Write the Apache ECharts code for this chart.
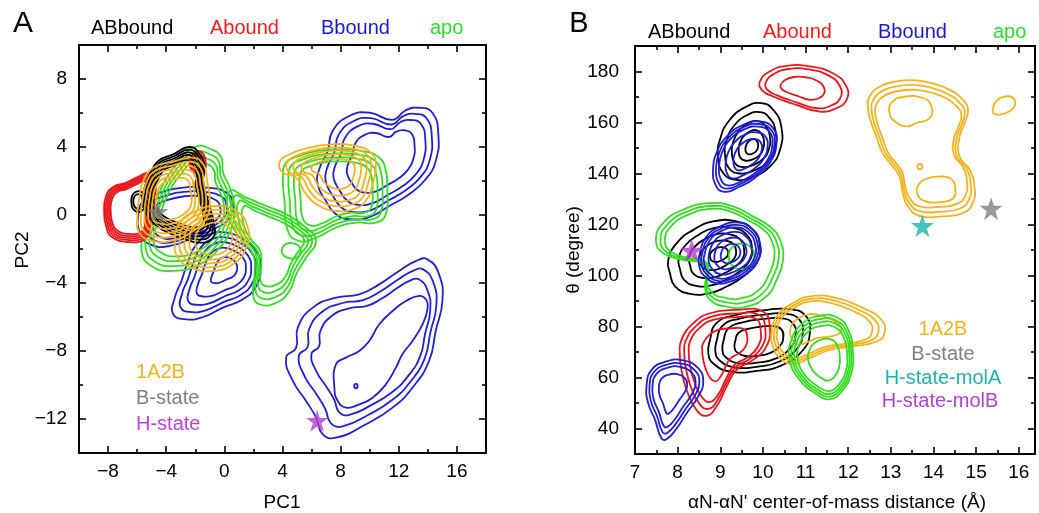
<!DOCTYPE html>
<html><head><meta charset="utf-8">
<script src="https://cdn.jsdelivr.net/npm/echarts@6/dist/echarts.min.js"></script>
<style>html,body{margin:0;padding:0;background:#fff}#c{width:1039px;height:513px}</style>
</head><body><div id="c"></div>
<script>
// ---------- colours ----------
const COL = {AB:'#000000', A:'#e8161c', B:'#1f1fd6', apo:'#33dd22', o:'#f4b31e', gray:'#808080', mag:'#b23fd0', cyan:'#1db3b0'};
const FONT = '"Liberation Sans", Arial, sans-serif';

// ---------- panel A tick values ----------
const aXMajor = [-8,-4,0,4,8,12,16];
const aXMinor = [-6,-2,2,6,10,14];
const aYMajor = [-12,-8,-4,0,4,8];
const aYMinor = [-10,-6,-2,2,6];
// ---------- panel B tick values ----------
const bXMajor = [7,8,9,10,11,12,13,14,15,16];
const bXMinor = [7.5,8.5,9.5,10.5,11.5,12.5,13.5,14.5,15.5];
const bYMajor = [40,60,80,100,120,140,160,180];
const bYMinor = [50,70,90,110,130,150,170];

// ---------- panel A contour blobs (outline, c = centre, s = level scales) ----------
const aBlueMid = {c:[-2.5,-0.2], s:[1,0.86,0.72], pts:[[-5.92,0.04],[-5.58,0.82],[-4.43,1.31],[-2.83,1.61],[-1.23,1.61],[0.14,1.31],[0.59,0.63],[0.37,-0.16],[-0.55,-0.75],[-2.15,-1.33],[-3.75,-1.82],[-5.12,-1.73],[-5.81,-1.04]]};
const aBlueLow = {c:[0.2,-3.1], s:[1,0.86,0.72,0.56,0.3], pts:[[-3.52,-5.84],[-2.61,-6.14],[-1.46,-6.0],[-0.09,-5.45],[1.28,-4.96],[2.19,-4.18],[2.49,-3.10],[2.19,-2.12],[1.28,-1.43],[0.14,-1.04],[-1.0,-1.14],[-1.92,-1.73],[-2.49,-2.71],[-2.95,-3.88],[-3.41,-4.86]]};
const aBlueHeart = {c:[11.0,3.3], s:[1,0.88,0.76,0.56], pts:[[7.45,4.94],[8.59,5.82],[9.97,6.02],[11.57,5.6],[12.48,6.16],[13.39,6.31],[14.31,6.02],[14.72,4.75],[14.54,3.18],[13.85,2.1],[12.71,1.22],[11.34,0.53],[9.97,-0.12],[8.59,-0.25],[7.68,0.04],[6.99,0.82],[6.42,1.8],[6.53,2.69],[7.10,3.76]]};
const aBlueLower = {c:[11.5,-7.5], s:[1,0.88,0.76], pts:[[13.97,-2.61],[14.77,-3.49],[15.0,-5.06],[14.54,-6.82],[14.08,-8.59],[12.94,-10.16],[11.57,-11.33],[9.74,-12.31],[7.68,-13.1],[6.77,-12.9],[6.31,-11.92],[5.62,-10.94],[4.71,-9.76],[4.25,-8.39],[4.94,-7.8],[5.05,-6.63],[6.08,-5.45],[7.68,-4.86],[9.28,-4.67],[10.65,-4.08],[12.02,-3.29],[13.17,-2.71]]};
const aBlueLowerCore = {c:[0,0], s:[1], pts:[[7.68,-8.78],[8.37,-8.39],[9.28,-8.0],[9.97,-7.41],[10.66,-6.43],[11.57,-5.65],[12.49,-5.06],[13.4,-4.76],[13.86,-4.96],[13.97,-5.55],[13.63,-6.43],[12.94,-7.41],[12.25,-8.19],[11.8,-8.98],[11.11,-9.96],[10.2,-10.75],[9.28,-11.14],[8.37,-11.33],[7.8,-10.94],[7.57,-10.16]]};
const aBlueDot = {c:[0,0], s:[1], pts:[[8.93,-10.06],[9.05,-9.93],[9.17,-10.06],[9.05,-10.19]]};
const aApoCluster = {c:[-2.3,0.3], s:[1,0.92,0.84,0.76], pts:[[-2.03,4.0],[-0.89,3.86],[-0.21,3.37],[-0.09,2.49],[0.37,1.61],[0.71,0.43],[0.48,-0.75],[-0.32,-1.92],[-1.69,-2.9],[-3.52,-3.29],[-5.01,-3.0],[-5.69,-2.12],[-5.35,-0.75],[-4.43,1.41],[-3.29,2.98]]};
const aApoChannel = {c:[3.6,-1.6], s:[1,0.9,0.8,0.7], pts:[[0.37,1.41],[1.51,1.02],[2.88,0.53],[4.25,0.04],[5.62,-0.75],[6.31,-1.53],[5.62,-2.51],[4.94,-3.49],[4.48,-4.47],[3.57,-5.16],[2.42,-5.25],[1.97,-4.67],[2.08,-3.49],[1.97,-2.31],[1.05,-1.33],[0.37,-0.16]]};
const aApoRight = {c:[7.8,1.5], s:[1,0.9,0.8,0.7], pts:[[4.14,0.82],[4.03,2.2],[4.25,3.08],[5.17,3.47],[6.31,3.76],[7.91,3.86],[9.51,3.76],[10.65,3.37],[11.11,2.59],[11.22,1.41],[11.11,0.04],[10.42,-0.45],[9.05,-0.45],[7.68,-0.75],[6.31,-1.33],[5.17,-1.53],[4.37,-0.94]]};
const aApoSmall = {c:[0,0], s:[1], pts:[[3.95,-2.1],[4.15,-1.75],[4.6,-1.65],[5.1,-1.8],[5.25,-2.15],[5.0,-2.5],[4.55,-2.55],[4.1,-2.4]]};
const aRedLeft = {c:[-6.4,0.4], s:[1,0.94,0.88,0.82,0.76], pts:[[-8.27,0.24],[-8.14,1.12],[-7.66,1.65],[-6.83,1.88],[-5.94,2.24],[-5.12,2.47],[-4.71,1.7],[-4.98,0.53],[-5.12,-0.65],[-5.46,-1.41],[-6.63,-1.59],[-7.73,-1.29],[-8.14,-0.65]]};
const aRedTop = {c:[-1.85,3.05], s:[1,0.8,0.6], pts:[[-2.4,3.0],[-2.1,3.6],[-1.6,3.7],[-1.3,3.2],[-1.4,2.6],[-1.9,2.4]]};
const aBlackCluster = {c:[-3.2,1.4], s:[1,0.94,0.88,0.82,0.76,0.7], pts:[[-5.5,1.6],[-5.1,2.45],[-4.55,3.18],[-3.52,3.57],[-2.38,4.0],[-1.69,3.57],[-1.35,2.78],[-1.46,2.0],[-1.12,0.82],[-0.73,-0.45],[-0.78,-1.33],[-1.69,-1.63],[-3.06,-1.3],[-4.2,-0.9],[-5.0,-0.35],[-5.6,0.6]]};
const aBlackSmall = {c:[-5.95,0.8], s:[1,0.7], pts:[[-6.4,0.8],[-6.2,1.3],[-5.7,1.35],[-5.45,0.9],[-5.6,0.3],[-6.15,0.25]]};
const aOrangeCluster = {c:[-3.5,1.0], s:[1,0.9,0.8,0.7,0.6,0.5], pts:[[-5.58,2.0],[-4.89,2.78],[-3.52,3.14],[-2.15,3.37],[-1.42,2.94],[-1.19,2.0],[-1.0,0.82],[-1.23,-0.16],[-2.15,-0.94],[-3.52,-1.49],[-4.89,-1.53],[-5.81,-1.1],[-5.99,-0.16],[-5.85,1.02]]};
const aOrangeLow = {c:[-0.6,-1.4], s:[1,0.88,0.76,0.64,0.5], pts:[[-3.41,-1.53],[-3.06,-0.45],[-1.92,0.24],[-0.55,0.53],[0.82,0.24],[1.62,-0.75],[1.51,-1.92],[0.59,-2.9],[-0.78,-3.29],[-2.15,-3.14],[-3.18,-2.51]]};
const aOrangeRight = {c:[7.8,2.6], s:[1,0.88,0.76,0.62,0.45], pts:[[3.79,3.08],[4.48,3.57],[5.85,3.96],[7.45,4.16],[9.05,4.06],[10.08,3.67],[10.42,2.98],[10.19,1.8],[9.74,0.82],[8.82,0.33],[7.68,0.24],[6.54,0.53],[5.63,1.22],[4.94,2.2],[4.03,2.49]]};

// ---------- panel B contour blobs ----------
const bRedTop = {c:[10.9,173.5], s:[1,0.86,0.5], pts:[[9.93,176.1],[10.16,180],[10.55,182.2],[11.1,182.0],[11.64,179.3],[11.96,174.1],[11.96,168.9],[11.72,165.6],[11.33,164.3],[10.79,166.9],[10.24,170.2],[9.97,172.8]]};
const bBlackUp = {c:[9.75,150], s:[1,0.8,0.6,0.4,0.2], pts:[[8.99,153.2],[9.22,161.0],[9.62,166.3],[9.97,167.6],[10.24,165.0],[10.43,158.4],[10.4,149.3],[10.16,142.7],[9.77,138.8],[9.38,137.5],[9.07,140.1],[8.95,146.7]]};
const bBlueUp = {c:[9.7,148], s:[1,0.92,0.84,0.66,0.45], pts:[[8.91,148],[9.15,154.5],[9.54,159.1],[9.93,160.4],[10.24,157.8],[10.32,151.9],[10.16,144.1],[9.85,138.8],[9.46,134.9],[9.07,132.9],[8.87,136.2],[8.83,141.4]]};
const bGreenMid = {c:[9.0,112], s:[1,0.93,0.86], pts:[[7.49,114.0],[7.66,120.5],[8.13,125.8],[8.76,128.4],[9.3,127.1],[9.77,123.1],[10.16,119.2],[10.4,114.0],[10.47,106.1],[10.32,98.3],[10.08,91.8],[9.62,87.8],[9.15,87.8],[8.76,90.5],[8.64,95.7],[8.68,100.9],[8.56,104.8],[8.13,106.1],[7.66,108.8]]};
const bGreenMidCore = {c:[0,0], s:[1], pts:[[9.2,107.5],[9.28,111],[9.5,112.5],[9.72,111],[9.8,107.5],[9.72,104],[9.5,102.5],[9.28,104]]};
const bBlackMid = {c:[9.0,108.5], s:[1,0.8,0.6,0.4,0.2], pts:[[7.82,100.9],[7.78,106.1],[7.98,112.7],[8.37,117.9],[8.83,121.2],[9.38,121.2],[9.77,117.9],[9.93,111.4],[9.85,104.8],[9.54,99.6],[9.15,95.7],[8.76,93.1],[8.29,92.8],[7.94,95.7]]};
const bBlueMid = {c:[9.25,108.5], s:[1,0.92,0.84,0.7,0.52,0.32], pts:[[8.52,108.8],[8.68,115.3],[8.99,119.2],[9.38,120.8],[9.73,118.6],[9.93,112.7],[9.89,106.1],[9.62,100.9],[9.22,97.6],[8.91,97.0],[8.64,99.6],[8.51,103.5]]};
const bRedLow = {c:[9.1,72], s:[1,0.9,0.8,0.5], pts:[[8.09,74.8],[8.37,81.3],[8.76,85.2],[9.38,86.5],[10.0,85.9],[10.16,80.0],[10.08,72.2],[9.77,66.9],[9.38,63.0],[9.15,56.5],[8.91,48.6],[8.68,45.0],[8.44,47.3],[8.21,55.2],[8.09,63.0],[8.05,69.5]]};
const bBlackLow = {c:[9.9,74], s:[1,0.86,0.72,0.48], pts:[[8.76,74.8],[8.91,81.3],[9.38,84.6],[10.0,86.3],[10.63,86.8],[11.02,83.9],[11.1,77.4],[10.94,70.8],[10.47,65.0],[9.85,62.6],[9.22,62.4],[8.83,65.6],[8.72,69.5]]};
const bOrangeLow = {c:[11.0,79], s:[1,0.92,0.84,0.45], pts:[[10.2,77.4],[10.32,83.9],[10.71,89.2],[11.18,92.0],[11.72,91.1],[12.35,87.2],[12.78,82.6],[12.85,77.4],[12.66,74.1],[12.11,72.2],[11.57,70.8],[11.1,67.6],[10.71,65.4],[10.4,67.6],[10.24,72.2]]};
const bGreenLow = {c:[11.5,66], s:[1,0.93,0.86,0.78,0.5], pts:[[10.63,66.9],[10.67,74.8],[10.94,81.3],[11.33,84.2],[11.72,83.7],[12.0,78.7],[12.11,69.5],[12.07,61.7],[11.88,55.2],[11.57,51.5],[11.22,53.9],[10.86,59.1]]};
const bBlueLow = {c:[7.85,56], s:[1,0.88,0.76,0.5], pts:[[7.27,56.5],[7.39,63.0],[7.74,66.3],[8.13,66.7],[8.48,63.7],[8.6,58.4],[8.48,52.5],[8.21,46.0],[7.98,40.1],[7.74,35.8],[7.62,36.2],[7.47,43.4],[7.31,49.9]]};
const bOrangeTop = {c:[13.7,150], s:[1,0.93,0.86], pts:[[12.5,170.2],[12.74,174.1],[13.13,176.1],[13.6,176.5],[13.99,175.2],[14.38,172.8],[14.69,168.9],[14.81,165.0],[14.73,159.8],[14.61,154.5],[14.61,146.7],[14.85,141.4],[14.96,134.9],[14.92,128.4],[14.69,124.5],[14.22,123.2],[13.67,123.4],[13.4,127.1],[13.28,132.3],[13.2,138.8],[13.05,142.7],[12.81,147.9],[12.66,154.5],[12.52,161.0],[12.46,166.3]]};
const bOrangeTopUpper = {c:[0,0], s:[1], pts:[[13.01,167.6],[13.28,170.0],[13.75,169.6],[13.95,166.3],[13.91,161.7],[13.6,159.8],[13.36,158.5],[13.09,160.5],[12.97,163.7]]};
const bOrangeTopLower = {c:[0,0], s:[1], pts:[[13.64,135.3],[13.83,137.9],[14.14,138.8],[14.41,137.9],[14.51,134.0],[14.45,130.1],[14.14,128.8],[13.79,129.2],[13.62,132.1]]};
const bOrangeDot = {c:[0,0], s:[1], pts:[[13.62,142.7],[13.68,143.8],[13.74,142.7],[13.68,141.6]]};
const bOrangeSide = {c:[0,0], s:[1], pts:[[15.39,165.0],[15.47,168.3],[15.7,170.2],[15.87,169.6],[15.91,167.0],[15.78,164.4],[15.55,163.1],[15.41,163.5]]};

// ---------- stars ----------
const starsA = [[-4.6,0.2],[6.38,-12.1]];
const starsAColor = [COL.gray, COL.mag];
const starsB = [[13.74,119.5],[15.35,126.2],[8.33,109.8]];
const starsBColor = [COL.cyan, COL.gray, COL.mag];

// ---------- draw order ----------
const layersA = [
  [COL.B, [aBlueMid, aBlueLow, aBlueHeart, aBlueLower, aBlueLowerCore, aBlueDot]],
  [COL.apo, [aApoCluster, aApoChannel, aApoRight, aApoSmall]],
  [COL.A, [aRedLeft, aRedTop]],
  [COL.AB, [aBlackCluster, aBlackSmall]],
  [COL.o, [aOrangeCluster, aOrangeLow, aOrangeRight]]
];
const layersB = [
  [COL.AB, [bBlackUp, bBlackMid, bBlackLow]],
  [COL.A, [bRedTop, bRedLow]],
  [COL.o, [bOrangeLow, bOrangeTop, bOrangeTopUpper, bOrangeTopLower, bOrangeDot, bOrangeSide]],
  [COL.apo, [bGreenMid, bGreenMidCore, bGreenLow]],
  [COL.B, [bBlueUp, bBlueMid, bBlueLow]]
];

function buildRings(layers){
  const out = [];
  layers.forEach(([color, blobs]) => blobs.forEach(b => b.s.forEach(k => {
    out.push({color, pts: b.pts.map(p => [b.c[0] + (p[0]-b.c[0])*k, b.c[1] + (p[1]-b.c[1])*k])});
  })));
  return out;
}
const ringsA = buildRings(layersA);
const ringsB = buildRings(layersB);

function contourSeries(rings, xi, yi){
  return {type:'custom', xAxisIndex:xi, yAxisIndex:yi, silent:true, animation:false, z:2,
    data: rings.map(r => r.pts[0]),
    renderItem: (params, api) => {
      const r = rings[params.dataIndex];
      return {type:'polygon', shape:{points: r.pts.map(p => api.coord(p)), smooth:0.5},
              style:{fill:'none', stroke:r.color, lineWidth:1.8}};
    }};
}

const STAR = 'path://M12,0 L14.9,8.6 L24,8.6 L16.6,14 L19.4,22.8 L12,17.5 L4.6,22.8 L7.4,14 L0,8.6 L9.1,8.6 Z';
function starSeries(pts, colors, xi, yi, size){
  return {type:'scatter', xAxisIndex:xi, yAxisIndex:yi, silent:true, animation:false, symbol:STAR, symbolSize:size, z:10,
    data: pts.map((p,i) => ({value:p, itemStyle:{color:colors[i]}}))};
}

const fmt = v => String(v).replace('-', '\u2212');
function axisSet(dim, grid, min, max, interval, majors, minors, margin){
  const pos = dim === 'x' ? ['bottom','top'] : ['left','right'];
  const out = [];
  pos.forEach((p, pi) => {
    const base = {type:'value', gridIndex:grid, min, max, interval, position:p,
      axisLine:{show:false, onZero:false}, splitLine:{show:false}, minorTick:{show:false}, minorSplitLine:{show:false}};
    out.push(Object.assign({}, base, {
      axisTick:{show:true, inside:true, length:7, customValues:majors, lineStyle:{color:'#000', width:1.6}},
      axisLabel: pi === 0 ? {show:true, customValues:majors, formatter:fmt, margin, color:'#000', fontSize:19, fontFamily:FONT}
                          : {show:false}}));
    out.push(Object.assign({}, base, {
      axisTick:{show:true, inside:true, length:4, customValues:minors, lineStyle:{color:'#000', width:1.6}},
      axisLabel:{show:false}}));
  });
  return out;
}

const xAxes = axisSet('x', 0, -10, 18, 2, aXMajor, aXMinor, 9).concat(axisSet('x', 1, 7, 16.38, 0.5, bXMajor, bXMinor, 9));
const yAxes = axisSet('y', 0, -14, 10, 2, aYMajor, aYMinor, 12).concat(axisSet('y', 1, 30, 190, 10, bYMajor, bYMinor, 16));

function txt(text, x, y, color, size, align, rot){
  return {type:'text', x, y, rotation: rot || 0, silent:true, z:100,
    style:{text, fill:color, font: size + 'px ' + FONT, textAlign:align || 'left', textVerticalAlign:'middle', align:align || 'left', verticalAlign:'middle'}};
}

const graphics = [
  txt('A', 23, 24, '#000', 30, 'center'),
  txt('B', 579, 24, '#000', 29, 'center'),
  txt('ABbound', 91, 28, '#000', 20), txt('Abound', 210, 28, '#ee1c1c', 20),
  txt('Bbound', 321, 28, '#1a1ad2', 20), txt('apo', 430, 28, '#2edc2e', 20),
  txt('ABbound', 648, 32, '#000', 20), txt('Abound', 763, 32, '#ee1c1c', 20),
  txt('Bbound', 878, 32, '#1a1ad2', 20), txt('apo', 993, 32, '#2edc2e', 20),
  txt('1A2B', 136, 372, COL.o, 20), txt('B-state', 136, 398, COL.gray, 20), txt('H-state', 136, 424, '#c040e0', 20),
  txt('1A2B', 943, 329, COL.o, 20, 'center'), txt('B-state', 943, 354, COL.gray, 20, 'center'),
  txt('H-state-molA', 943, 378, COL.cyan, 20, 'center'), txt('H-state-molB', 940, 401, COL.mag, 20, 'center'),
  txt('PC1', 282, 503, '#000', 19, 'center'),
  txt('PC2', 23, 250, '#000', 19, 'center', Math.PI/2),
  txt('\u03b1N-\u03b1N\' center-of-mass distance (\u00c5)', 837, 503, '#000', 19, 'center'),
  txt('\u03b8 (degree)', 574, 250, '#000', 19, 'center', Math.PI/2)
];

const chart = echarts.init(document.getElementById('c'), null, {renderer:'canvas'});
chart.setOption({
  animation:false,
  backgroundColor:'#fff',
  grid:[
    {left:79, top:45, width:407, height:408, show:true, borderColor:'#000', borderWidth:2, backgroundColor:'transparent'},
    {left:635, top:46, width:400, height:408, show:true, borderColor:'#000', borderWidth:2, backgroundColor:'transparent'}
  ],
  xAxis: xAxes,
  yAxis: yAxes,
  series: [
    contourSeries(ringsA, 0, 0),
    starSeries(starsA, starsAColor, 0, 0, 22),
    contourSeries(ringsB, 4, 4),
    starSeries(starsB, starsBColor, 4, 4, 23)
  ],
  graphic: graphics
});
</script>
</body></html>
